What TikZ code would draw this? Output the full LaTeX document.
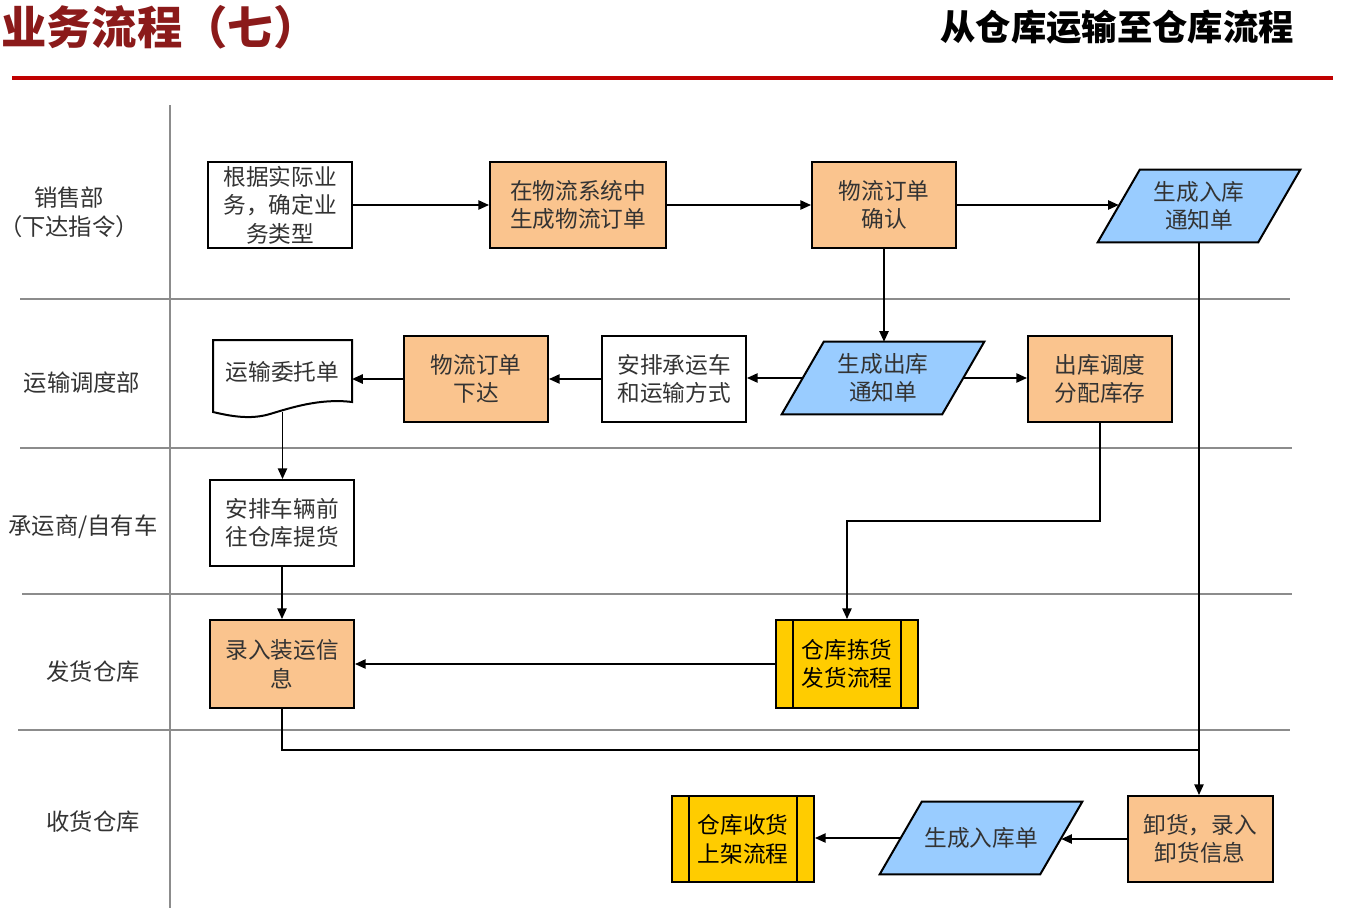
\documentclass[tikz,border=0pt]{standalone}
\usepackage{fontspec}
\setmainfont{Noto Sans CJK SC}
\usetikzlibrary{arrows.meta,backgrounds,calc}
\definecolor{peach}{HTML}{FAC48E}
\definecolor{skyb}{HTML}{99CCFF}
\definecolor{gold}{HTML}{FFCC00}
\definecolor{titlered}{HTML}{8B1A1A}
\definecolor{rulered}{HTML}{C00000}
\definecolor{lanegray}{HTML}{8C8C8C}
\definecolor{txtgray}{HTML}{333333}
\tikzset{
  boxtext/.style={font=\fontsize{17}{21.5}\selectfont, text=txtgray, align=center, inner sep=0pt},
  plainbox/.style={boxtext, draw=black, line width=1.5pt, fill=white, minimum width=108pt, minimum height=64.5pt},
  orangebox/.style={plainbox, fill=peach},
  procbox/.style={plainbox, fill=gold, text=black, minimum width=106.5pt, minimum height=66pt},
  iobox/.style={boxtext, minimum width=120pt, minimum height=54pt},
  iofill/.style={draw=black, line width=1.5pt, fill=skyb},
  docbox/.style={boxtext, minimum width=104pt, minimum height=54pt},
  lanelabel/.style={font=\fontsize{17.5}{22}\selectfont, text=txtgray, align=center, inner sep=0pt},
  lane/.style={draw=lanegray, line width=1.4pt},
  arr/.style={draw=black, line width=1.1pt, -{Triangle[length=8pt,width=7pt]}},
  conn/.style={draw=black, line width=1.1pt},
}
\newcommand\mypara[1]{\draw[iofill] ([xshift=-15.75pt]#1.south west) -- ([xshift=-15.75pt]#1.south east) -- ([xshift=15.75pt]#1.north east) -- ([xshift=15.75pt]#1.north west) -- cycle;}
\newcommand\myinner[1]{\draw[line width=1.5pt] ([xshift=13.5pt]#1.north west) -- ([xshift=13.5pt]#1.south west); \draw[line width=1.5pt] ([xshift=-13.5pt]#1.north east) -- ([xshift=-13.5pt]#1.south east);}
\begin{document}
\begin{tikzpicture}[x=0.75pt,y=-0.75pt]
\useasboundingbox (0,0) rectangle (1365,922);
% titles
\node[anchor=west, inner sep=0pt, font=\fontsize{34}{37}\selectfont\bfseries, text=titlered] (title) at (1,27) {业务流程（七）};
\node[anchor=east, inner sep=0pt, font=\fontsize{26.5}{30}\selectfont\bfseries, text=black] (subtitle) at (1294,27) {从仓库运输至仓库流程};
\draw[rulered, line width=3pt] (12,78) -- (1333,78);
% lanes
\draw[lane] (170,105) -- (170,908);
\draw[lane] (20,299) -- (1290,299);
\draw[lane] (20,448) -- (1292,448);
\draw[lane] (22,594) -- (1292,594);
\draw[lane] (18,730) -- (1290,730);
% lane labels
\node[lanelabel] (l1) at (69,212) {销售部\\（下达指令）};
\node[lanelabel] (l2) at (82,383) {运输调度部};
\node[lanelabel] (l3) at (83,527) {承运商/自有车};
\node[lanelabel] (l4) at (93,672) {发货仓库};
\node[lanelabel] (l5) at (93,822) {收货仓库};
% nodes
\node[plainbox] (n1) at (280,205) {根据实际业\\务，确定业\\务类型};
\node[orangebox, minimum width=132pt] (n2) at (578,205) {在物流系统中\\生成物流订单};
\node[orangebox] (n3) at (884,205) {物流订单\\确认};
\node[iobox] (n4) at (1199,206) {生成入库\\通知单};
\node[iobox] (n5) at (883,378) {生成出库\\通知单};
\node[orangebox] (n6) at (1100,379) {出库调度\\分配库存};
\node[plainbox] (n7) at (674,379) {安排承运车\\和运输方式};
\node[orangebox] (n8) at (476,379) {物流订单\\下达};
\node[docbox] (n9) at (282.5,376) {};
\node[plainbox] (n10) at (282,523) {安排车辆前\\往仓库提货};
\node[orangebox, minimum height=66pt] (n11) at (282,664) {录入装运信\\息};
\node[procbox] (n12) at (847,664) {仓库拣货\\发货流程};
\node[orangebox, minimum width=108.75pt] (n13) at (1200,839) {卸货，录入\\卸货信息};
\node[iobox] (n14) at (981,838) {生成入库单};
\node[procbox, minimum height=64.5pt] (n15) at (743,839) {仓库收货\\上架流程};
\myinner{n12}
\myinner{n15}
\begin{scope}[on background layer]
\mypara{n4}
\mypara{n5}
\mypara{n14}
\draw[line width=1.5pt, fill=white] (213,340) -- (352,340) -- (352,402) .. controls (320,398) and (290,408) .. (270,414) .. controls (250,420) and (230,416) .. (213,412) -- cycle;
\end{scope}
\node[boxtext] (n9t) at (282.5,372) {运输委托单};
% connectors
\draw[arr] (n1.east) -- (n2.west);
\draw[arr] (n2.east) -- (n3.west);
\draw[arr] (n3.east) -- (n3.east -| n4.west);
\draw[arr] (n3.south) -- (n3.south |- n5.north);
\draw[arr] (n5.east) -- (n5.east -| n6.west);
\draw[arr] (n5.west) -- (n5.west -| n7.east);
\draw[arr] (n7.west) -- (n8.east);
\draw[arr] (n8.west) -- (n8.west -| n9.east);
\draw[arr] (n9.south) -- (n9.south |- n10.north);
\draw[arr] (n10.south) -- (n11.north);
\coordinate (c1) at (1100,521);
\draw[arr] (n6.south) -- (c1) -| (n12.north);
\draw[arr] (n12.west) -- (n12.west -| n11.east);
\draw[arr] (n4.south) -- (n4.south |- n13.north);
\coordinate (c2) at (1200,750);
\draw[conn] (n11.south) |- (c2);
\draw[arr] (n13.west) -- (n13.west -| n14.east);
\draw[arr] (n14.west) -- (n14.west -| n15.east);
\end{tikzpicture}
\end{document}
